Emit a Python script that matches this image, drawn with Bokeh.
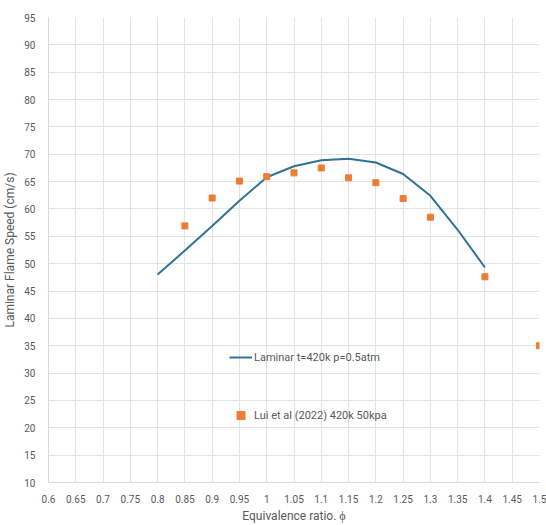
from bokeh.plotting import figure
from bokeh.models import FixedTicker, Legend, LegendItem, Range1d
from bokeh.embed import file_html
from bokeh.resources import INLINE

# Data
line_phi = [0.8, 0.85, 0.9, 0.95, 1.0, 1.05, 1.1, 1.15, 1.2, 1.25, 1.3, 1.35, 1.4]
line_speed = [48.0, 52.4, 56.9, 61.5, 65.8, 67.8, 68.9, 69.2, 68.5, 66.4, 62.4, 56.2, 49.3]
pts_phi = [0.85, 0.9, 0.95, 1.0, 1.05, 1.1, 1.15, 1.2, 1.25, 1.3, 1.4, 1.5]
pts_speed = [56.9, 62.0, 65.1, 65.9, 66.6, 67.5, 65.7, 64.8, 61.9, 58.5, 47.6, 35.0]
x_ticks = [round(0.6 + 0.05 * i, 2) for i in range(19)]
y_ticks = list(range(10, 100, 5))
line_label = "Laminar t=420k p=0.5atm"
pts_label = "Lui et al (2022) 420k 50kpa"

FONT = "Roboto"
GRAY = "#595959"

p = figure(width=546, height=525, output_backend="svg", toolbar_location=None,
           x_range=Range1d(0.6, 1.5), y_range=Range1d(10, 95),
           min_border_left=10, min_border_right=7, min_border_top=17, min_border_bottom=10)
p.outline_line_color = None

r1 = p.line(line_phi, line_speed, line_color="#2F7294", line_width=2)
r2 = p.scatter(pts_phi, pts_speed, marker="square", size=6, fill_color="#ED7D31", line_color="#ED7D31")

p.xaxis.ticker = FixedTicker(ticks=x_ticks)
p.xaxis.major_label_overrides = {t: ("%g" % t) for t in x_ticks}
p.yaxis.ticker = FixedTicker(ticks=y_ticks)

for ax in (p.xaxis[0], p.yaxis[0]):
    ax.axis_line_color = "#d9d9d9"
    ax.axis_line_width = 1
    ax.major_tick_line_color = None
    ax.minor_tick_line_color = None
    ax.major_label_text_font = FONT
    ax.major_label_text_font_size = "10px"
    ax.major_label_text_color = GRAY
    ax.axis_label_text_font = FONT
    ax.axis_label_text_font_size = "12px"
    ax.axis_label_text_color = GRAY
    ax.axis_label_text_font_style = "normal"

p.xaxis.axis_label = "Equivalence ratio. ϕ"
p.yaxis.axis_label = "Laminar Flame Speed (cm/s)"
p.xaxis.major_label_standoff = 6
p.yaxis.major_label_standoff = 7
p.xaxis.axis_label_standoff = 3
p.yaxis.axis_label_standoff = 4

p.xgrid.ticker = FixedTicker(ticks=x_ticks)
p.ygrid.ticker = FixedTicker(ticks=y_ticks)
p.grid.grid_line_color = "#e3e3e3"
p.grid.grid_line_width = 1

legend = Legend(items=[LegendItem(label=line_label, renderers=[r1]),
                       LegendItem(label=pts_label, renderers=[r2])],
                location=(181, 57), spacing=38, padding=0, margin=0,
                glyph_width=23, glyph_height=20, label_standoff=2,
                label_text_font=FONT, label_text_font_size="11px",
                label_text_color=GRAY, border_line_alpha=0, background_fill_alpha=0)
p.add_layout(legend)

open("out.html", "w").write(file_html(p, INLINE))
